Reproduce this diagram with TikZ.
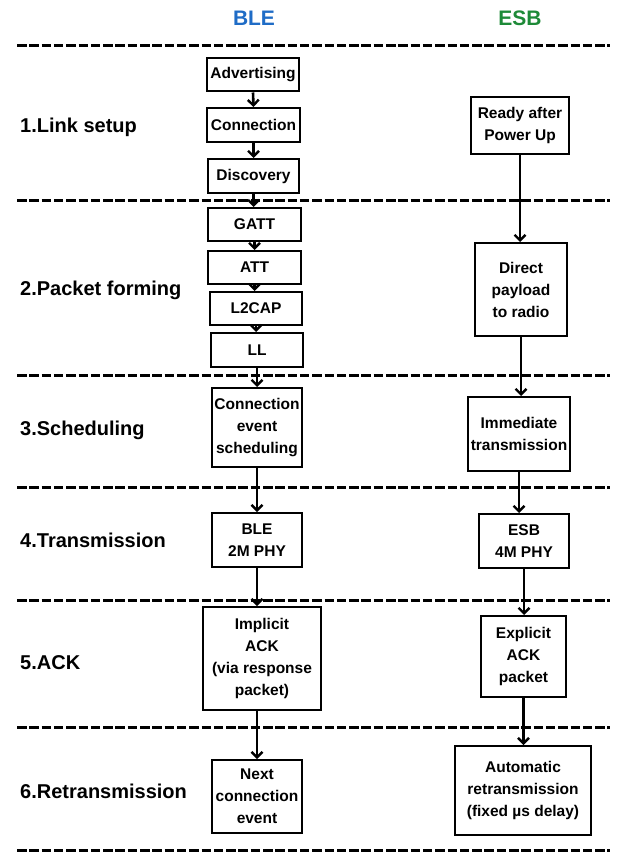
\documentclass[tikz,border=0pt]{standalone}
\usepackage{fontspec}
\setmainfont{Liberation Sans}
\usetikzlibrary{arrows.meta}
\definecolor{bleblue}{HTML}{1F6CC6}
\definecolor{esbgreen}{HTML}{1E8A38}
\begin{document}
\begin{tikzpicture}[x=1pt,y=-1pt,
  box/.style={draw, line width=2pt, inner sep=1pt, align=center,
    font=\bfseries\fontsize{15.5}{22}\selectfont},
  sec/.style={anchor=west, inner sep=0pt, font=\bfseries\fontsize{20}{24}\selectfont},
  ttl/.style={inner sep=0pt, font=\bfseries\fontsize{21}{24}\selectfont},
  sep/.style={line width=3pt, dash pattern=on 9.5pt off 2.8pt},
  arr/.style={line width=2.6pt, -{Straight Barb[length=5.5pt,width=11pt,line width=2.4pt]}}]
\useasboundingbox (0,0) rectangle (618,853);
% titles
\node[ttl, text=bleblue] (tble) at (254,18) {BLE};
\node[ttl, text=esbgreen] (tesb) at (520,18) {ESB};
% separators
\foreach \yy/\nm in {46/s0,200/s1,375/s2,487/s3,600/s4,727/s5,850/s6}{
  \coordinate (\nm l) at (17,\yy);
  \coordinate (\nm r) at (610,\yy);
  \draw[sep] (\nm l) -- (\nm r);
}
% section labels
\node[sec] (l1) at (20,127) {1.Link setup};
\node[sec] (l2) at (20,290) {2.Packet forming};
\node[sec] (l3) at (20,430) {3.Scheduling};
\node[sec] (l4) at (20,540) {4.Transmission};
\node[sec] (l5) at (20,663) {5.ACK};
\node[sec] (l6) at (20,791) {6.Retransmission};
% BLE column
\node[box, minimum width=92pt, minimum height=33pt] (adv) at (253,75) {Advertising};
\node[box, minimum width=93pt, minimum height=34pt] (con) at (253.5,125) {Connection};
\node[box, minimum width=91pt, minimum height=34pt] (dis) at (253.5,176) {Discovery};
\node[box, minimum width=93pt, minimum height=33pt] (gatt) at (254.5,224.5) {GATT};
\node[box, minimum width=93pt, minimum height=33pt] (att) at (254.5,267.5) {ATT};
\node[box, minimum width=92pt, minimum height=33pt] (l2cap) at (256,308.5) {L2CAP};
\node[box, minimum width=92pt, minimum height=34pt] (ll) at (257,350) {LL};
\node[box, minimum width=90pt, minimum height=79pt] (ces) at (257,427.5) {Connection\\event\\scheduling};
\node[box, minimum width=90pt, minimum height=54pt] (phy2) at (257,540) {BLE\\2M PHY};
\node[box, minimum width=118pt, minimum height=103pt] (iack) at (262,658.5) {Implicit\\ACK\\(via response\\packet)};
\node[box, minimum width=90pt, minimum height=73pt] (next) at (257,796.5) {Next\\connection\\event};
% ESB column
\node[box, minimum width=98pt, minimum height=57pt] (rdy) at (520,125.5) {Ready after\\Power Up};
\node[box, minimum width=92pt, minimum height=93pt] (dpr) at (521,289.5) {Direct\\payload\\to radio};
\node[box, minimum width=102pt, minimum height=74pt] (imm) at (519,434) {Immediate\\transmission};
\node[box, minimum width=90pt, minimum height=54pt] (phy4) at (524,541) {ESB\\4M PHY};
\node[box, minimum width=85pt, minimum height=81pt] (eack) at (523.5,656.5) {Explicit\\ACK\\packet};
\node[box, minimum width=136pt, minimum height=89pt] (auto) at (523,790.5) {Automatic\\retransmission\\(fixed µs delay)};
% BLE arrows
\draw[arr] (adv.south) -- (con.north);
\draw[arr] (con.south) -- (dis.north);
\draw[arr] (dis.south) -- (dis.south |- gatt.north);
\draw[arr] (gatt.south) -- (gatt.south |- att.north);
\draw[arr] (att.south) -- (att.south |- l2cap.north);
\draw[arr] (l2cap.south) -- (l2cap.south |- ll.north);
\draw[arr] (ll.south) -- (ces.north);
\draw[arr] (ces.south) -- (phy2.north);
\draw[arr] (phy2.south) -- (phy2.south |- iack.north);
\draw[arr] (iack.south -| next.north) -- (next.north);
% ESB arrows
\draw[arr] (rdy.south) -- (rdy.south |- dpr.north);
\draw[arr] (dpr.south) -- (dpr.south |- imm.north);
\draw[arr] (imm.south) -- (imm.south |- phy4.north);
\draw[arr] (phy4.south) -- (phy4.south |- eack.north);
\draw[arr] (eack.south) -- (eack.south |- auto.north);
\end{tikzpicture}
\end{document}
